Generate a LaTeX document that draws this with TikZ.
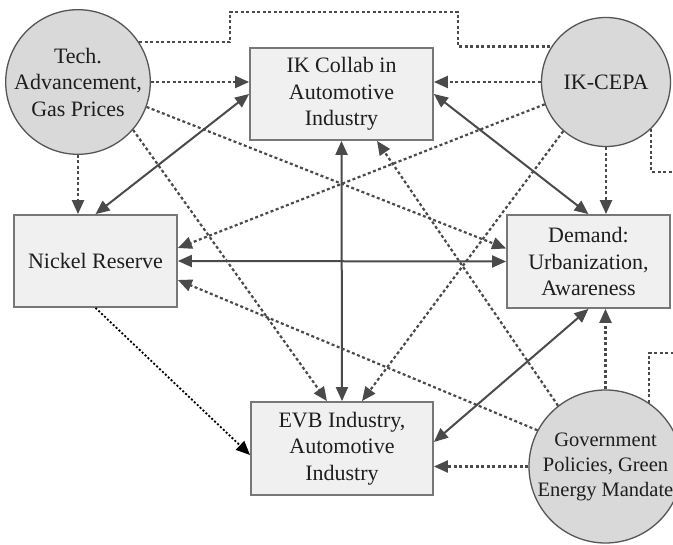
\documentclass[tikz,border=0pt]{standalone}
\usepackage{fontspec}
\setmainfont{Liberation Serif}
\usetikzlibrary{arrows.meta,calc}
\definecolor{edgegray}{HTML}{4A4A4A}
\definecolor{boxfill}{HTML}{F0F0F0}
\definecolor{boxline}{HTML}{777777}
\definecolor{circfill}{HTML}{D9D9D9}
\definecolor{circline}{HTML}{555555}
\definecolor{txt}{HTML}{1E1E1E}
\begin{document}
\begin{tikzpicture}[x=1pt,y=-1pt,
  every node/.style={font=\fontsize{22}{26.5}\selectfont, text=txt, align=center, inner sep=0pt},
  boxnode/.style={draw=boxline, fill=boxfill, line width=1.8pt, rectangle},
  circnode/.style={draw=circline, fill=circfill, line width=1.3pt, circle},
  solidlink/.style={draw=edgegray, line width=2pt, {Triangle[length=14pt,width=12pt]}-{Triangle[length=14pt,width=12pt]}},
  dotlink/.style={draw=edgegray, line width=2.2pt, dash pattern=on 3pt off 2.5pt, -{Triangle[length=14pt,width=12pt]}},
  dotline/.style={draw=edgegray, line width=2.2pt, dash pattern=on 3pt off 2.5pt},
  blacklink/.style={draw=black, line width=1.8pt, dash pattern=on 2pt off 2pt, -{Triangle[length=14pt,width=12pt]}}
]
\useasboundingbox (0,0) rectangle (673,545);
\clip (0,0) rectangle (673,545);
\fill[white] (0,0) rectangle (673,545);

% nodes
\node[boxnode, minimum width=183pt, minimum height=92pt] (ikc) at (341.5,94) {IK Collab in\\Automotive\\Industry};
\node[boxnode, minimum width=163pt, minimum height=92pt] (nickel) at (95.5,261) {Nickel Reserve};
\node[boxnode, minimum width=163pt, minimum height=93pt] (demand) at (588.5,261.5) {Demand:\\Urbanization,\\Awareness};
\node[boxnode, minimum width=182pt, minimum height=93pt] (evb) at (342,448.5) {EVB Industry,\\Automotive\\Industry};
\node[circnode, minimum size=129pt] (tech) at (78,82) {Tech.\\Advancement,\\Gas Prices};
\node[circnode, minimum size=129pt] (cepa) at (606,82) {IK-CEPA};
\node[circnode, minimum size=153pt, font=\fontsize{20.5}{25}\selectfont] (gov) at (605.5,466.5) {Government\\Policies, Green\\Energy Mandate};

% free ends
\coordinate (t1) at (230,12);
\coordinate (t2) at (458,12);
\coordinate (e1) at (690,172);
\coordinate (e2) at (690,353);

% undirected dotted routes
\draw[dotline] (tech.33) -| (t1) -- (t2) |- (cepa.147);
\draw[dotline] (cepa.-46) |- (e1);
\draw[dotline] (gov.56) |- (e2);

% dotted influences
\draw[dotlink] (tech.east) -- (tech.east -| ikc.west);
\draw[dotlink] (tech.south) -- (tech.south |- nickel.north);
\draw[dotlink] (tech.-20) -- ($(demand.west)+(0,-13)$);
\draw[dotlink] (tech.-41) -- ($(evb.north)+(-15,0)$);
\draw[dotlink] (cepa.west) -- (cepa.west -| ikc.east);
\draw[dotlink] (cepa.south) -- (cepa.south |- demand.north);
\draw[dotlink] (cepa.200) -- ($(nickel.east)+(0,-13)$);
\draw[dotlink] (cepa.229) -- ($(evb.north)+(20,0)$);
\draw[dotlink] (gov.152) -- ($(nickel.east)+(0,19)$);
\draw[dotlink] (gov.128) -- ($(ikc.south)+(35.5,0)$);
\draw[dotlink] (gov.north) -- (gov.north |- demand.south);
\draw[dotlink] (gov.west) -- (gov.west -| evb.east);
\draw[blacklink] (nickel.south) -- ($(evb.west)+(0,6.5)$);

% solid two-way links
\draw[solidlink] (nickel.north) -- (ikc.west);
\draw[solidlink] (ikc.east) -- (demand.north);
\draw[solidlink] (nickel.east) -- (demand.west);
\draw[solidlink] (ikc.south) -- (evb.north);
\draw[solidlink] ($(evb.east)+(0,-6.5)$) -- (demand.south);
\end{tikzpicture}
\end{document}
